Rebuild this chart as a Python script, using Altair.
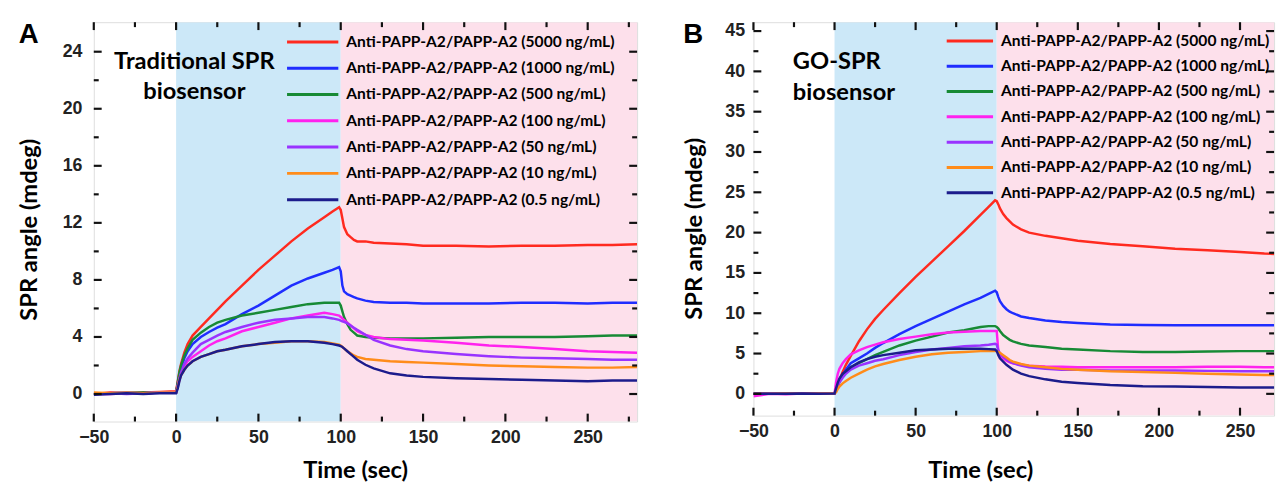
import altair as alt
import pandas as pd

# ---------------- data ----------------
TIME = [-50, -40, -30, -20, -10, 0, 1, 2, 3, 5, 7, 10, 15, 20, 25, 30, 40, 50, 60, 70, 80, 90, 95, 99,
        100, 101, 102, 104, 106, 108, 110, 115, 120, 130, 140, 150, 170, 190, 210, 230, 250, 265, 280]

LABELS = ["Anti-PAPP-A2/PAPP-A2 (5000 ng/mL)", "Anti-PAPP-A2/PAPP-A2 (1000 ng/mL)",
          "Anti-PAPP-A2/PAPP-A2 (500 ng/mL)", "Anti-PAPP-A2/PAPP-A2 (100 ng/mL)",
          "Anti-PAPP-A2/PAPP-A2 (50 ng/mL)", "Anti-PAPP-A2/PAPP-A2 (10 ng/mL)",
          "Anti-PAPP-A2/PAPP-A2 (0.5 ng/mL)"]
COLORS = ["#ff2a1f", "#1f2dff", "#178a35", "#ff22ee", "#9933ff", "#ff8c1a", "#1c1c8c"]

# Panel A: traditional SPR
A_5000 = [0.0, 0.1, 0.05, 0.1, 0.15, 0.2, 0.9, 1.6, 2.1, 2.9, 3.5, 4.1, 4.7, 5.3, 5.9, 6.5, 7.6, 8.7, 9.7, 10.7,
          11.6, 12.4, 12.8, 13.1, 12.9, 12.3, 11.7, 11.2, 11.0, 10.8, 10.7, 10.7, 10.6, 10.55, 10.5, 10.4, 10.4,
          10.35, 10.4, 10.4, 10.45, 10.45, 10.5]
A_1000 = [0.0, 0.05, 0.1, 0.05, 0.1, 0.1, 0.7, 1.3, 1.8, 2.5, 3.0, 3.5, 4.0, 4.35, 4.65, 4.9, 5.6, 6.2, 6.9, 7.6,
          8.1, 8.5, 8.7, 8.9, 8.6, 7.6, 7.2, 7.0, 6.9, 6.8, 6.7, 6.55, 6.45, 6.4, 6.4, 6.35, 6.35, 6.35, 6.4,
          6.4, 6.35, 6.4, 6.4]
A_500 = [0.0, 0.05, 0.05, 0.1, 0.1, 0.1, 0.8, 1.5, 2.0, 2.7, 3.2, 3.8, 4.3, 4.7, 5.0, 5.2, 5.5, 5.7, 5.9, 6.1,
         6.3, 6.4, 6.4, 6.4, 6.2, 5.8, 5.4, 4.9, 4.5, 4.3, 4.1, 4.0, 3.95, 3.9, 3.9, 3.9, 3.95, 4.0, 4.0, 4.0,
         4.05, 4.1, 4.1]
A_100 = [0.0, 0.0, 0.05, 0.05, 0.1, 0.1, 0.5, 1.0, 1.4, 1.9, 2.3, 2.6, 3.0, 3.4, 3.7, 3.9, 4.4, 4.7, 5.0, 5.3,
         5.5, 5.7, 5.6, 5.5, 5.4, 5.3, 5.2, 5.0, 4.8, 4.6, 4.4, 4.15, 4.0, 3.85, 3.8, 3.75, 3.6, 3.4, 3.3,
         3.15, 3.0, 2.95, 2.9]
A_50 = [0.0, 0.05, 0.0, 0.05, 0.1, 0.1, 0.6, 1.1, 1.5, 2.1, 2.5, 2.9, 3.5, 3.8, 4.1, 4.35, 4.7, 5.0, 5.2, 5.3,
        5.4, 5.4, 5.3, 5.2, 5.15, 5.1, 5.05, 4.95, 4.8, 4.65, 4.5, 4.15, 3.8, 3.4, 3.15, 3.0, 2.8, 2.65, 2.55,
        2.5, 2.45, 2.4, 2.4]
A_10 = [0.1, 0.05, 0.1, 0.05, 0.1, 0.1, 0.5, 1.0, 1.3, 1.7, 2.0, 2.3, 2.6, 2.8, 3.0, 3.1, 3.35, 3.5, 3.6, 3.7,
        3.7, 3.65, 3.55, 3.45, 3.4, 3.3, 3.2, 3.0, 2.85, 2.7, 2.6, 2.45, 2.4, 2.3, 2.25, 2.2, 2.1, 2.0, 1.95,
        1.9, 1.85, 1.85, 1.9]
A_05 = [-0.05, 0.0, 0.05, 0.0, 0.05, 0.05, 0.4, 0.9, 1.3, 1.7, 2.0, 2.3, 2.6, 2.8, 3.0, 3.1, 3.35, 3.5, 3.65,
        3.7, 3.7, 3.6, 3.5, 3.4, 3.35, 3.3, 3.2, 3.0, 2.8, 2.6, 2.4, 2.05, 1.8, 1.45, 1.3, 1.2, 1.1, 1.05,
        1.0, 0.95, 0.9, 0.95, 0.95]

# Panel B: GO-SPR
B_5000 = [0.0, 0.05, 0.0, 0.05, 0.0, 0.05, 0.6, 1.2, 1.7, 2.7, 3.6, 4.7, 6.5, 8.0, 9.3, 10.4, 12.5, 14.5, 16.4,
          18.3, 20.2, 22.2, 23.2, 24.0, 23.9, 23.5, 23.0, 22.3, 21.8, 21.4, 21.0, 20.4, 20.0, 19.6, 19.3, 19.0,
          18.6, 18.3, 18.0, 17.8, 17.6, 17.4, 17.3]
B_1000 = [0.0, 0.0, 0.05, 0.0, 0.05, 0.05, 0.5, 1.0, 1.5, 2.3, 3.0, 3.8, 4.4, 5.0, 5.7, 6.3, 7.4, 8.4, 9.3, 10.2,
          11.1, 11.9, 12.4, 12.8, 12.6, 12.0, 11.5, 10.9, 10.5, 10.2, 10.0, 9.6, 9.4, 9.1, 8.9, 8.8, 8.6, 8.55,
          8.5, 8.5, 8.5, 8.5, 8.5]
B_500 = [0.0, 0.0, 0.0, 0.05, 0.05, 0.05, 0.5, 1.0, 1.5, 2.2, 2.8, 3.3, 3.8, 4.3, 4.8, 5.2, 6.0, 6.6, 7.1, 7.6,
         7.9, 8.3, 8.4, 8.4, 8.3, 8.1, 7.8, 7.3, 7.0, 6.7, 6.5, 6.2, 6.0, 5.8, 5.6, 5.5, 5.3, 5.2, 5.2, 5.25,
         5.3, 5.3, 5.3]
B_100 = [-0.3, 0.0, -0.05, 0.05, 0.0, 0.05, 1.5, 2.5, 3.1, 3.8, 4.3, 4.9, 5.4, 5.8, 6.1, 6.4, 6.8, 7.1, 7.4,
         7.6, 7.7, 7.8, 7.8, 7.8, 7.8, 5.2, 4.8, 4.4, 4.1, 3.9, 3.8, 3.6, 3.5, 3.4, 3.35, 3.3, 3.3, 3.3, 3.3,
         3.35, 3.35, 3.3, 3.3]
B_50 = [0.0, 0.05, 0.0, 0.0, 0.05, 0.05, 0.5, 1.0, 1.4, 2.0, 2.5, 3.0, 3.5, 3.8, 4.1, 4.3, 4.8, 5.2, 5.5, 5.7,
        5.9, 6.0, 6.1, 6.2, 6.1, 5.4, 5.0, 4.6, 4.3, 4.0, 3.8, 3.5, 3.3, 3.1, 3.0, 3.0, 2.9, 2.9, 2.9, 2.85,
        2.8, 2.8, 2.8]
B_10 = [0.0, 0.0, 0.05, 0.0, 0.05, 0.05, 0.2, 0.6, 0.9, 1.3, 1.6, 2.0, 2.5, 3.0, 3.4, 3.7, 4.2, 4.6, 4.9, 5.1,
        5.2, 5.3, 5.3, 5.3, 5.3, 5.2, 5.1, 4.8, 4.5, 4.2, 4.0, 3.7, 3.5, 3.3, 3.1, 3.0, 2.8, 2.7, 2.6, 2.5,
        2.4, 2.35, 2.3]
B_05 = [0.0, 0.0, 0.0, 0.05, 0.0, 0.05, 0.7, 1.4, 1.9, 2.5, 2.8, 3.3, 3.9, 4.3, 4.6, 4.8, 5.1, 5.4, 5.5, 5.6,
        5.6, 5.6, 5.55, 5.5, 5.3, 4.8, 4.4, 4.0, 3.6, 3.3, 3.0, 2.5, 2.2, 1.8, 1.5, 1.35, 1.1, 0.95, 0.9, 0.85,
        0.8, 0.8, 0.8]

A_SERIES = [A_5000, A_1000, A_500, A_100, A_50, A_10, A_05]
B_SERIES = [B_5000, B_1000, B_500, B_100, B_50, B_10, B_05]

X_MAJOR = [-50, 0, 50, 100, 150, 200, 250]
X_MINOR = [-25, 25, 75, 125, 175, 225, 275]
A_Y_MAJOR = [0, 4, 8, 12, 16, 20, 24]
A_Y_MINOR = [2, 6, 10, 14, 18, 22]
B_Y_MAJOR = [0, 5, 10, 15, 20, 25, 30, 35, 40, 45]
B_Y_MINOR = [2.5, 7.5, 12.5, 17.5, 22.5, 27.5, 32.5, 37.5, 42.5]

SHADE_START = [0, 100]
SHADE_FILL = ["#cce8f8", "#fde0eb"]

LABEL_FONT = "Liberation Sans"
TEXT_FONT = "Lato"
MAJOR_LEN = 8
MINOR_LEN = 5
TICK_COLOR = "#111111"


def tick_segments(xdom, ydom, W, H, xmaj, xmin, ymaj, ymin):
    """Inward frame ticks as segments in data units (lengths converted from pixels)."""
    ux = (xdom[1] - xdom[0]) / W
    uy = (ydom[1] - ydom[0]) / H
    segs = []
    k = 0
    for vals, ln in ((xmaj, MAJOR_LEN), (xmin, MINOR_LEN)):
        for v in vals:
            if xdom[0] <= v <= xdom[1]:
                segs.append({"id": k, "x": v, "y": ydom[0]}); segs.append({"id": k, "x": v, "y": ydom[0] + ln * uy}); k += 1
                segs.append({"id": k, "x": v, "y": ydom[1]}); segs.append({"id": k, "x": v, "y": ydom[1] - ln * uy}); k += 1
    for vals, ln in ((ymaj, MAJOR_LEN), (ymin, MINOR_LEN)):
        for v in vals:
            if ydom[0] <= v <= ydom[1]:
                segs.append({"id": k, "x": xdom[0], "y": v}); segs.append({"id": k, "x": xdom[0] + ln * ux, "y": v}); k += 1
                segs.append({"id": k, "x": xdom[1], "y": v}); segs.append({"id": k, "x": xdom[1] - ln * ux, "y": v}); k += 1
    d = pd.DataFrame(segs)
    d["c"] = TICK_COLOR
    return d


def panel(series, xdom, ydom, W, H, ymaj, ymin, letter, annot, ax, ay, aalign,
          leg_y0, leg_y1, sym_x0, sym_x1, text_x, ytitle_x, ytitle_y, lab_pad_y, xtitle_x, xtitle_y):
    xs = alt.Scale(domain=xdom, nice=False, zero=False)
    ys = alt.Scale(domain=ydom, nice=False, zero=False)

    rows = []
    for lab, vals in zip(LABELS, series):
        for t, v in zip(TIME, vals):
            rows.append({"t": t, "v": v, "series": lab})
    df = pd.DataFrame(rows)
    color = alt.Color("series:N", scale=alt.Scale(domain=LABELS, range=COLORS), legend=None)

    shade_df = pd.DataFrame({"x0": SHADE_START,
                             "x1": [SHADE_START[1], xdom[1]],
                             "fill": SHADE_FILL})
    shade = alt.Chart(shade_df).mark_rect(clip=True).encode(
        x=alt.X("x0:Q", scale=xs, axis=alt.Axis(
            values=X_MAJOR, orient="bottom", labels=True, ticks=False, tickSize=0, domain=False,
            grid=False, labelFont=LABEL_FONT, labelFontWeight="bold", labelFontSize=18,
            labelColor="#222", labelPadding=7, labelFlush=False, labelOverlap=False,
            title="Time (sec)", titleFont=TEXT_FONT, titleFontWeight="bold", titleFontSize=24,
            titleColor="black", titleX=xtitle_x, titleY=xtitle_y, titleBaseline="alphabetic")),
        x2="x1:Q",
        y=alt.value(0), y2=alt.value(H),
        color=alt.Color("fill:N", scale=None),
    )

    lines = alt.Chart(df).mark_line(strokeWidth=2.5, clip=True).encode(
        x=alt.X("t:Q", scale=xs, axis=None),
        y=alt.Y("v:Q", scale=ys, axis=alt.Axis(
            values=ymaj, orient="left", labels=True, ticks=False, tickSize=0, domain=False,
            grid=False, labelFont=LABEL_FONT, labelFontWeight="bold", labelFontSize=18,
            labelColor="#222", labelPadding=lab_pad_y, labelFlush=False, labelOverlap=False,
            title="SPR angle (mdeg)", titleFont=TEXT_FONT, titleFontWeight="bold",
            titleFontSize=24, titleColor="black", titleAngle=270, titleX=ytitle_x,
            titleY=ytitle_y, titleBaseline="middle", titleAlign="center")),
        color=color,
    )

    ann_df = pd.DataFrame({"x": [ax], "y": [ay], "txt": [annot]})
    annotation = alt.Chart(ann_df).mark_text(
        font=TEXT_FONT, fontWeight="bold", fontSize=24, lineBreak="\n", lineHeight=31,
        align=aalign, baseline="alphabetic", color="black").encode(
        x=alt.X("x:Q", scale=xs, axis=None),
        y=alt.Y("y:Q", scale=ys, axis=None),
        text="txt:N",
    )

    tick_df = tick_segments(xdom, ydom, W, H, X_MAJOR, X_MINOR, ymaj, ymin)
    ticks = alt.Chart(tick_df).mark_line(strokeWidth=2.2).encode(
        x=alt.X("x:Q", scale=xs, axis=None),
        y=alt.Y("y:Q", scale=ys, axis=None),
        detail="id:N",
        stroke=alt.Stroke("c:N", scale=None),
    )

    leg_df = pd.DataFrame({"series": LABELS})
    leg_y = alt.Y("series:N", sort=LABELS, axis=None,
                  scale=alt.Scale(type="point", domain=LABELS, range=[leg_y0, leg_y1], padding=0))
    leg_rule = alt.Chart(leg_df).mark_rule(strokeWidth=3).encode(
        x=alt.value(sym_x0), x2=alt.value(sym_x1), y=leg_y, color=color)
    leg_text = alt.Chart(leg_df).mark_text(
        font=TEXT_FONT, fontWeight="bold", fontSize=15.8, align="left", baseline="middle",
        color="black").encode(x=alt.value(text_x), y=leg_y, text="series:N")

    letter_df = pd.DataFrame({"txt": [letter]})
    letter_mark = alt.Chart(letter_df).mark_text(
        font=LABEL_FONT, fontWeight="bold", fontSize=28, align="center",
        baseline="alphabetic", color="black").encode(
        x=alt.value(ytitle_x - 1), y=alt.value(21), text="txt:N")

    return alt.layer(shade, lines, annotation, ticks, leg_rule, leg_text, letter_mark).resolve_scale(
        y="independent").resolve_axis(x="independent", y="independent").properties(width=W, height=H)


pa = panel(A_SERIES, [-50, 280], [-1.93, 26.07], 551, 405, A_Y_MAJOR, A_Y_MINOR, "A",
           "Traditional SPR\nbiosensor", 11.1, 22.8, "center",
           20, 180, 196, 248, 256, -65, 210, 12, 265, 57)
pb = panel(B_SERIES, [-50, 271], [-2.7, 46.1], 528, 399, B_Y_MAJOR, B_Y_MINOR, "B",
           "GO-SPR\nbiosensor", -25.7, 40.3, "left",
           19, 173, 196, 243, 251, -60, 209, 9, 230, 63)

chart = alt.hconcat(pa, pb, spacing=40).properties(
    padding={"left": 9, "top": 6, "right": 0, "bottom": 0}
).configure_view(stroke="black", strokeWidth=2).configure(background="white")

chart.save("out.html", embed_options={"renderer": "svg", "actions": False})
